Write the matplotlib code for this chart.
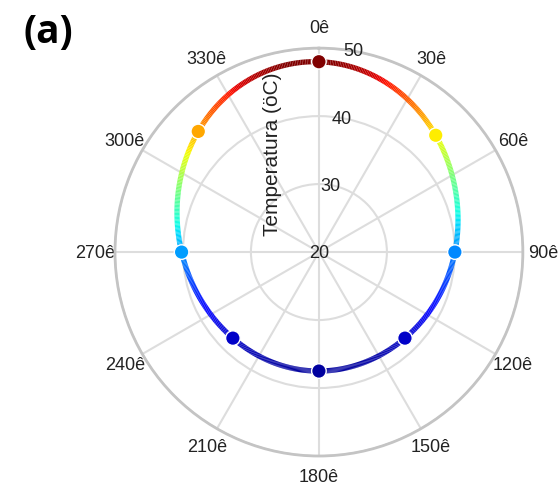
""" Polar temperature profile, panel (a) """
import numpy as np
import matplotlib
matplotlib.use('Agg')
import matplotlib.pyplot as plt
from matplotlib.collections import LineCollection
from matplotlib.colors import Normalize

# measured temperature around the section (degrees, clockwise from top)
angles_deg = [0, 45, 90, 135, 180, 225, 270, 315]
temps = [48.0, 44.3, 40.0, 37.9, 37.5, 37.9, 40.2, 45.1]
r_ticks = [20, 30, 40, 50]
theta_ticks = list(range(0, 360, 30))
theta_labels = ['%d\u00ea' % d for d in theta_ticks]

plt.rcParams['font.family'] = ['Liberation Sans', 'DejaVu Sans']


def smooth_loop(vals, n=720):
    """Periodic (trigonometric) resampling of a closed profile"""
    vals = np.asarray(vals, dtype=float)
    coef = np.fft.rfft(vals)
    coef[-1] *= 0.5  # split the Nyquist term between +/- frequency
    return np.fft.irfft(coef, n) * n / len(vals)


fig = plt.figure(figsize=(5.6, 4.85), dpi=100)
ax = fig.add_axes([0.205, 0.0577, 0.729, 0.841], projection='polar')
ax.set_theta_zero_location('N')
ax.set_theta_direction(-1)
ax.set_ylim(20, 50)

norm = Normalize(vmin=37.2, vmax=48.0)
cmap = plt.get_cmap('jet')

# smooth coloured ring
fine_r = smooth_loop(temps)
fine_t = np.linspace(0, 2 * np.pi, len(fine_r), endpoint=False)
fine_t = np.append(fine_t, 2 * np.pi)
fine_r = np.append(fine_r, fine_r[0])
pts = np.column_stack([fine_t, fine_r]).reshape(-1, 1, 2)
segs = np.concatenate([pts[:-1], pts[1:]], axis=1)
lc = LineCollection(segs, cmap=cmap, norm=norm, linewidth=3.8, zorder=3)
lc.set_array(0.5 * (fine_r[:-1] + fine_r[1:]))
ax.add_collection(lc)

# measured points
ax.scatter(np.radians(angles_deg), temps, c=temps, cmap=cmap, norm=norm,
           s=110, edgecolors='white', linewidths=1.0, zorder=4)

# grid and labels
ax.set_yticks(r_ticks)
ax.set_yticklabels([])
ax.set_thetagrids(theta_ticks, theta_labels, fontsize=13, color='#222222')
ax.tick_params(axis='x', pad=4)
ax.grid(color='#dddddd', linewidth=1.5)
ax.spines['polar'].set_color('#c4c4c4')
ax.spines['polar'].set_linewidth(2)
for r in r_ticks:
    ax.text(np.radians(9.6), r, str(r), ha='center', va='center',
            fontsize=13, color='#222222', zorder=5)

fig.text(0.486, 0.682, 'Temperatura (\u00f6C)', rotation=90, ha='center',
         va='center', fontsize=15, color='#222222')
fig.text(0.086, 0.934, '(a)', ha='center', va='center', fontsize=28,
         fontweight='bold', family=['Open Sans', 'DejaVu Sans'])

fig.savefig('out.png', dpi=100)
